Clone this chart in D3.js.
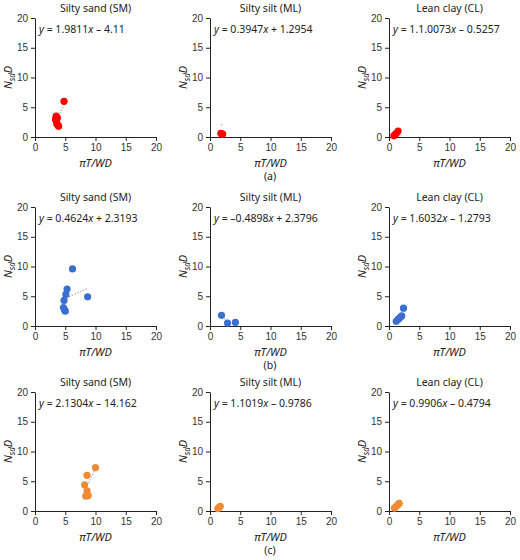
<!DOCTYPE html>
<html><head><meta charset="utf-8">
<script src="https://cdn.jsdelivr.net/npm/d3@7"></script>
<style>
body{margin:0;background:#fff;font-family:"Noto Sans",sans-serif;}
text{fill:#222;}
.axis path,.axis line{stroke:#222;}
.axis text{font-size:10px;fill:#333;}
</style></head><body>
<svg id="chart" width="520" height="560"></svg>
<script>
const soils = ['Silty sand (SM)', 'Silty silt (ML)', 'Lean clay (CL)'];
const rowLabels = ['(a)', '(b)', '(c)'];
const rowColors = ['#ff0000', '#3b6fcf', '#f08a33'];
const ticks = [0, 5, 10, 15, 20];

// [slope, intercept] per row, per soil
const fits = [
  [[1.9811, -4.11], [0.3947, 1.2954], [1.10073, -0.5257]],
  [[0.4624, 2.3193], [-0.4898, 2.3796], [1.6032, -1.2793]],
  [[2.1304, -14.162], [1.1019, -0.9786], [0.9906, -0.4794]]
];
// [slope text, rest]
const fitText = [
  [['1.9811', ' – 4.11'], ['0.3947', ' + 1.2954'], ['1.1.0073', ' – 0.5257']],
  [['0.4624', ' + 2.3193'], ['–0.4898', ' + 2.3796'], ['1.6032', ' – 1.2793']],
  [['2.1304', ' – 14.162'], ['1.1019', ' – 0.9786'], ['0.9906', ' – 0.4794']]
];

const pointsA = [
  [[3.5,3.5],[3.4,3.0],[3.5,2.7],[3.6,2.2],[3.9,1.8],[3.8,2.0],[3.7,3.2],[4.8,6.0]],
  [[1.8,0.6],[2.1,0.5],[2.0,0.45]],
  [[0.8,0.2],[1.0,0.4],[1.5,1.0],[1.2,0.6]]
];
const pointsB = [
  [[6.2,9.6],[5.3,6.2],[5.1,5.3],[4.8,4.3],[4.7,3.1],[5.0,2.5],[4.9,2.7],[8.7,4.9]],
  [[1.9,1.8],[2.9,0.5],[4.2,0.6]],
  [[1.2,0.8],[1.5,1.1],[1.8,1.4],[2.1,1.7],[2.4,3.0]]
];
const pointsC = [
  [[10,7.3],[8.6,6.0],[8.2,4.4],[8.6,3.4],[8.4,2.5],[8.8,2.6],[8.6,2.7]],
  [[1.3,0.4],[1.5,0.6],[1.7,0.8]],
  [[0.9,0.5],[1.2,0.8],[1.5,1.1],[1.7,1.3]]
];
const allPoints = [pointsA, pointsB, pointsC];

const svg = d3.select('#chart');
const colLeft = [35, 210, 389];
const rowTop = [18, 207, 392];
const w = 121, h = 119;

rowTop.forEach((top, r) => {
  colLeft.forEach((left, c) => {
    const g = svg.append('g').attr('transform', `translate(${left},${top})`);
    const x = d3.scaleLinear().domain([0, 20]).range([0, w]);
    const y = d3.scaleLinear().domain([0, 20]).range([h, 0]);

    g.append('g').attr('class', 'axis').attr('transform', `translate(0,${h})`)
      .call(d3.axisBottom(x).tickValues(ticks).tickSize(4).tickSizeOuter(0));
    g.append('g').attr('class', 'axis')
      .call(d3.axisLeft(y).tickValues(ticks).tickSize(4).tickSizeOuter(0));

    g.append('text').attr('x', w / 2).attr('y', -6).attr('text-anchor', 'middle')
      .style('font-size', '10.5px').text(soils[c]);

    const eq = g.append('text').attr('x', 4).attr('y', 15).style('font-size', '10.5px');
    eq.append('tspan').style('font-style', 'italic').text('y');
    eq.append('tspan').text(' = ' + fitText[r][c][0]);
    eq.append('tspan').style('font-style', 'italic').text('x');
    eq.append('tspan').text(fitText[r][c][1]);

    const yl = g.append('text').attr('transform', `translate(-23,${h / 2}) rotate(-90)`)
      .attr('text-anchor', 'middle').style('font-size', '11px').style('font-style', 'italic');
    yl.append('tspan').text('N');
    yl.append('tspan').attr('dy', 3).style('font-size', '8px').text('sd');
    yl.append('tspan').attr('dy', -3).text('D');

    g.append('text').attr('x', w / 2).attr('y', h + 30).attr('text-anchor', 'middle')
      .style('font-size', '11px').style('font-style', 'italic').text('πT/WD');

    const pts = allPoints[r][c];
    const [m, b] = fits[r][c];
    const xs = d3.extent(pts, d => d[0]);
    g.append('line')
      .attr('x1', x(xs[0])).attr('y1', y(Math.max(0, m * xs[0] + b)))
      .attr('x2', x(xs[1])).attr('y2', y(m * xs[1] + b))
      .attr('stroke', '#999').attr('stroke-dasharray', '1.5,1.5').attr('stroke-width', 1);

    g.selectAll('circle').data(pts).enter().append('circle')
      .attr('cx', d => x(d[0])).attr('cy', d => y(d[1])).attr('r', 3.6)
      .attr('fill', rowColors[r]);
  });
  svg.append('text').attr('x', 270).attr('y', top + h + 43).attr('text-anchor', 'middle')
    .style('font-size', '10.5px').text(rowLabels[r]);
});
</script></body></html>
